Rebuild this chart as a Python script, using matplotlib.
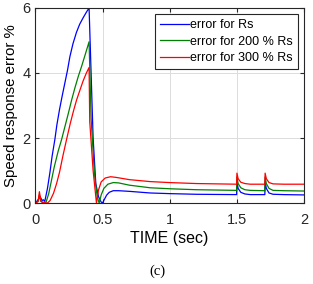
import matplotlib.pyplot as plt

tBlue = [0, 0.02, 0.035, 0.05, 0.06, 0.07, 0.09, 0.108, 0.125, 0.145, 0.16, 0.18, 0.20, 0.22,
         0.24, 0.257, 0.28, 0.306, 0.33, 0.356, 0.38, 0.40,
         0.43, 0.45, 0.47, 0.49, 0.50, 0.515, 0.53, 0.55, 0.58, 0.62, 0.70, 0.855, 1.0, 1.2, 1.499,
         1.501, 1.51, 1.53, 1.56, 1.60, 1.709, 1.711, 1.72, 1.74, 1.77, 1.85, 2.0]
eBlue = [0, 0.1, 0.2, 0.08, 0.1, 0.05, 0.45, 0.93, 1.45, 1.95, 2.4, 2.88, 3.3, 3.7,
         4.1, 4.5, 4.9, 5.25, 5.5, 5.7, 5.87, 6.0,
         2.0, 0.6, 0.2, 0.03, 0.0, 0.12, 0.24, 0.33, 0.38, 0.38, 0.36, 0.31, 0.29, 0.27, 0.26,
         0.65, 0.45, 0.33, 0.28, 0.26, 0.26, 0.65, 0.45, 0.31, 0.27, 0.26, 0.25]

tGreen = [0, 0.02, 0.03, 0.04, 0.06, 0.08, 0.10, 0.12, 0.14, 0.17, 0.195, 0.22, 0.245, 0.27,
          0.295, 0.32, 0.344, 0.37, 0.40,
          0.415, 0.44, 0.46, 0.475, 0.49, 0.51, 0.54, 0.58, 0.62, 0.70, 0.855, 1.0, 1.2, 1.499,
          1.501, 1.51, 1.53, 1.56, 1.60, 1.709, 1.711, 1.72, 1.74, 1.77, 1.85, 2.0]
eGreen = [0, 0.05, 0.25, 0.05, 0.02, 0.03, 0.3, 0.7, 1.1, 1.6, 1.95, 2.35, 2.75, 3.17,
          3.55, 3.9, 4.2, 4.55, 4.96,
          2.6, 0.9, 0.2, 0.0, 0.25, 0.45, 0.58, 0.63, 0.62, 0.55, 0.47, 0.44, 0.41, 0.39,
          0.8, 0.6, 0.47, 0.41, 0.39, 0.38, 0.8, 0.6, 0.45, 0.39, 0.38, 0.37]

tRed = [0, 0.02, 0.03, 0.04, 0.05, 0.09, 0.11, 0.135, 0.158, 0.18, 0.205, 0.232, 0.26, 0.285,
        0.307, 0.33, 0.355, 0.38, 0.40,
        0.405, 0.43, 0.455, 0.47, 0.49, 0.52, 0.56, 0.60, 0.70, 0.855, 1.0, 1.2, 1.499,
        1.501, 1.51, 1.53, 1.56, 1.60, 1.709, 1.711, 1.72, 1.74, 1.77, 1.85, 2.0]
eRed = [0, 0.05, 0.35, 0.1, 0.02, 0.0, 0.08, 0.3, 0.6, 0.95, 1.45, 1.95, 2.45, 2.85,
        3.17, 3.45, 3.75, 4.0, 4.17,
        2.5, 1.0, 0.0, 0.4, 0.65, 0.77, 0.81, 0.79, 0.72, 0.66, 0.63, 0.6, 0.58,
        0.92, 0.75, 0.64, 0.6, 0.58, 0.58, 0.92, 0.75, 0.63, 0.59, 0.58, 0.58]

labels = ['error for Rs', 'error for 200 % Rs', 'error for 300 % Rs']

plt.rcParams['font.family'] = ['Liberation Sans', 'DejaVu Sans']

fig = plt.figure(figsize=(3.13, 2.84), dpi=100)
ax = fig.add_axes([0.113, 0.285, 0.858, 0.687])

ax.plot(tBlue, eBlue, color='#0000ff', lw=0.9, label=labels[0])
ax.plot(tGreen, eGreen, color='#008000', lw=0.9, label=labels[1])
ax.plot(tRed, eRed, color='#ff0000', lw=0.9, label=labels[2])

ax.set_xlim(0, 2)
ax.set_ylim(0, 6)
ax.set_xticks([0, 0.5, 1, 1.5, 2])
ax.set_xticklabels(['0', '0.5', '1', '1.5', '2'])
ax.set_yticks([0, 2, 4, 6])
ax.grid(True, color='#dcdcdc', lw=0.7)
ax.tick_params(direction='in', length=3, top=True, right=True, labelsize=10.5, colors='#262626')
ax.tick_params(axis='x', pad=7)
for sp in ax.spines.values():
    sp.set_color('#262626')
    sp.set_linewidth(0.8)

ax.set_xlabel('TIME (sec)', fontsize=11.5, labelpad=3)
ax.set_ylabel('Speed response error %', fontsize=10.8, labelpad=3)

leg = ax.legend(loc='upper right', fontsize=9, handlelength=2.3, handletextpad=0.1,
                borderpad=0.4, labelspacing=0.35, borderaxespad=0.5, fancybox=False,
                framealpha=1)
leg.get_frame().set_edgecolor('#262626')
leg.get_frame().set_linewidth(0.8)

fig.text(0.502, 0.046, '(c)', ha='center', va='center', fontsize=10.5, family='Liberation Serif')

fig.savefig('out.png', dpi=100)
